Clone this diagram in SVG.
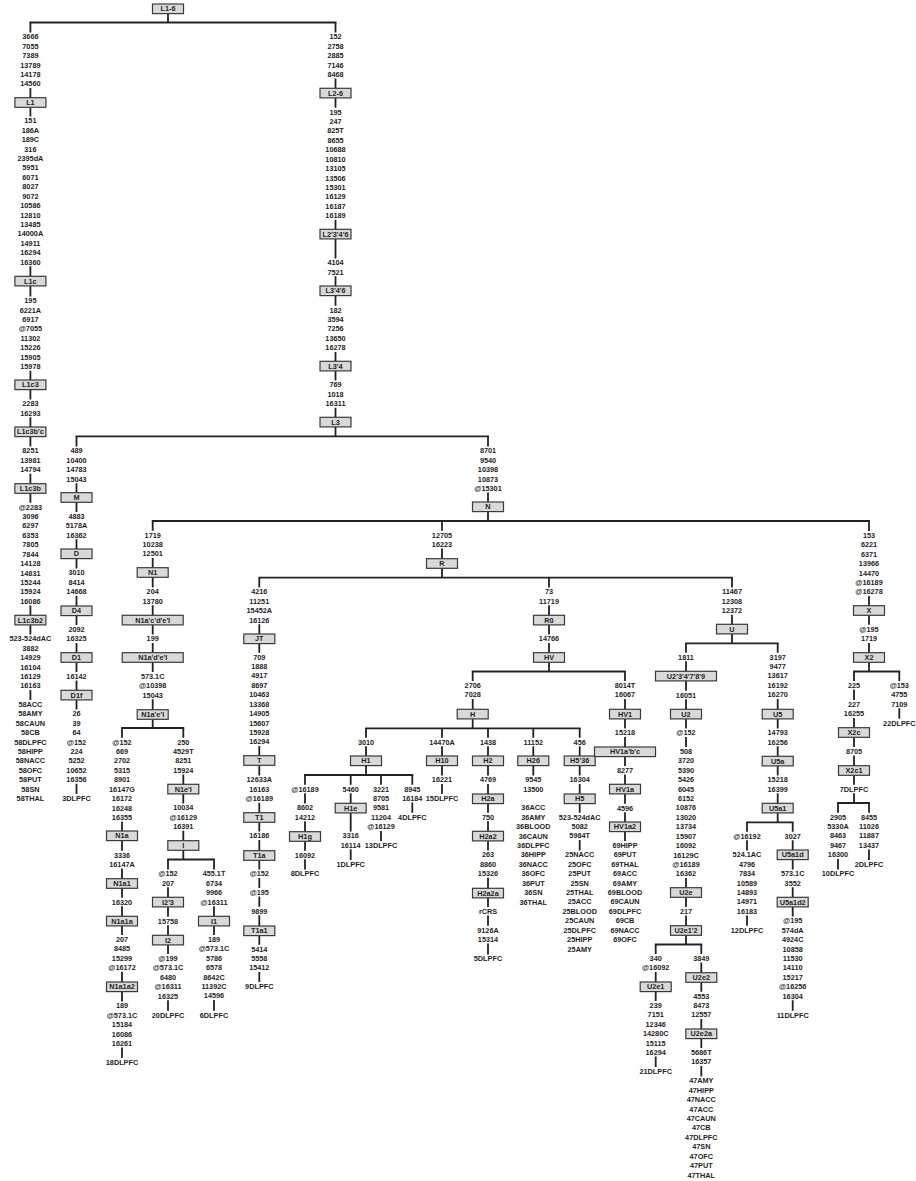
<svg xmlns="http://www.w3.org/2000/svg" width="916" height="1181" viewBox="0 0 916 1181">
<style>
.b{fill:#d9d9d9;stroke:#3a3a3a;stroke-width:1.2}
.t{font-family:"Liberation Sans",Arial,sans-serif;font-size:7.3px;font-weight:bold;fill:#1e1e1e;text-anchor:middle}
.c{fill:none;stroke:#222;stroke-width:1.8}
.h{fill:none;stroke:#222;stroke-width:1.8;stroke-linecap:square}
</style>
<rect width="916" height="1181" fill="#fff"/>
<g id="connectors">
<path class="h" d="M30.4 22.5H335.5M76.5 436.3H488M152.7 521H869M259.3 577.7H732M122 728H183.3M168 859.5H214M472.7 671.5H625M366 728.3H579.7M305 775H412.3M686 643.3H777.7M655.7 944.5H701.3M747 822.3H792.7M854 671.5H899.3M838 803H869"/>
<path class="c" d="M168 13.6V22.5
M30.4 22.5V32.5M30.4 87.9V97.7M30.4 107.3V116.5M30.4 266.2V276.3M30.4 285.9V296.4M30.4 370.7V380M30.4 389.6V399.5M30.4 417.3V427M30.4 436.6V446.5M30.4 473.7V483.7M30.4 493.3V502.8M30.4 605.4V615.3M30.4 624.9V634.5M30.4 690V700.1
M335.5 22.5V32.5M335.5 78.6V88.3M335.5 97.9V107.8M335.5 219.8V229.3M335.5 238.9V258.5M335.5 276.3V286M335.5 295.6V305.8M335.5 351.9V361.3M335.5 370.9V380.5M335.5 407.7V417.3M335.5 426.9V436.3
M76.5 436.3V446.5M76.5 483.2V492.7M76.5 502.3V512.1M76.5 539.3V549M76.5 558.6V568.5M76.5 595.7V606M76.5 615.6V625.1M76.5 642.9V652.7M76.5 662.3V672.1M76.5 680.5V690.3M76.5 699.9V709.5M76.5 783.8V794.1
M488 436.3V446.5M488 492.6V502M488 511.6V521
M152.7 521V530.8M152.7 558V567.7M152.7 577.3V587.5M152.7 605.3V615.3M152.7 624.9V634.5M152.7 642.9V652.7M152.7 662.3V672.1M152.7 699.3V709.7M152.7 719.3V728
M122 728V737.8M122 821.6V831M122 840.6V850.8M122 868.6V878.7M122 888.3V897.8M122 906.2V916.3M122 925.9V935.1M122 971.8V982M122 991.6V1001.5M122 1047.6V1058.1
M183.3 728V737.8M183.3 774.5V784.3M183.3 793.9V803.5M183.3 830.7V840.7M183.3 850.3V859.5
M168 859.5V869.5M168 887.3V897.3M168 906.9V916.8M168 925.2V935.3M168 944.9V954.1M168 1000.2V1010.8
M214 859.5V869.5M214 906.2V916.3M214 925.9V935.1M214 1000V1010.8
M442 521V530.8M442 548.6V558.7M442 568.3V577.7
M259.3 577.7V587.5M259.3 624.2V634M259.3 643.6V652.8M259.3 746V755.7M259.3 765.3V775.5M259.3 802.7V812.7M259.3 822.3V831.5M259.3 839.9V850.7M259.3 860.3V869.5M259.3 877.9V888.1M259.3 896.5V906.8M259.3 915.2V926M259.3 935.6V944.8M259.3 972V982.1
M549 577.7V587.5M549 605.3V615.3M549 624.9V634.5M549 642.9V652.7M549 662.3V671.5
M472.7 671.5V681.1M472.7 698.9V709.3M472.7 718.9V728.3
M366 728.3V737.8M366 746.2V756M366 765.6V775
M305 775V784.8M305 793.2V803.5M305 821.3V831.7M305 841.3V850.8M305 859.2V869.5
M350.7 775V784.8M350.7 793.2V803.3M350.7 812.9V831.5M350.7 849.3V860.1
M381 775V784.8M381 830.9V841.1
M412.3 775V784.8M412.3 802.6V812.8
M442 728.3V737.8M442 746.2V756M442 765.6V775.5M442 783.9V794.1
M488 728.3V737.8M488 746.2V756M488 765.6V775.5M488 783.9V794M488 803.6V812.8M488 821.2V831.3M488 840.9V850.5M488 877.7V888.3M488 897.9V907.1M488 915.5V925.8M488 943.6V954.5
M533.3 728.3V737.8M533.3 746.2V756M533.3 765.6V775.5
M579.7 728.3V737.8M579.7 746.2V756M579.7 765.6V775.5M579.7 783.9V794M579.7 803.6V812.8M579.7 840V850.5
M625 671.5V681.1M625 698.9V709.3M625 718.9V728.5M625 736.9V747M625 756.6V766.1M625 774.5V784.3M625 793.9V803.8M625 812.2V822M625 831.6V841.1
M732 577.7V587.5M732 614.7V624.3M732 633.9V643.3
M686 643.3V652.8M686 661.2V671.3M686 680.9V690.8M686 699.2V709.3M686 718.9V728.5M686 736.9V747.1M686 878V887.7M686 897.3V907.1M686 915.5V925.7M686 935.3V944.5
M655.7 944.5V954.1M655.7 971.9V982M655.7 991.6V1001.1M655.7 1056.6V1067.1
M701.3 944.5V954.1M701.3 962.5V972.7M701.3 982.3V991.8M701.3 1019V1029M701.3 1038.6V1048.1M701.3 1065.9V1076.5
M777.7 643.3V652.8M777.7 698.9V709.3M777.7 718.9V728.5M777.7 746.3V756.3M777.7 765.9V775.5M777.7 793.3V803.3M777.7 812.9V822.3
M747 822.3V831.8M747 840.2V850.5M747 915.4V925.8
M792.7 822.3V831.8M792.7 840.2V850M792.7 859.6V869.5M792.7 887.3V897.3M792.7 906.9V916.5M792.7 1000.3V1010.8
M869 521V531.1M869 596V605.7M869 615.3V624.8M869 642.9V652.7M869 662.3V671.5
M854 671.5V681.1M854 689.5V700.1M854 717.9V727.7M854 737.3V747.1M854 755.5V765.7M854 775.3V784.8M854 793.2V803
M838 803V812.8M838 858.9V869.5
M869 803V812.8M869 849.5V860.1
M899.3 671.5V681.1M899.3 708.3V718.8"/>
</g>
<g id="labels" class="t">
<text x="30.4" y="39.3"><tspan x="30.4">3666</tspan><tspan x="30.4" dy="9.42">7055</tspan><tspan x="30.4" dy="9.42">7389</tspan><tspan x="30.4" dy="9.42">13789</tspan><tspan x="30.4" dy="9.42">14178</tspan><tspan x="30.4" dy="9.42">14560</tspan></text>
<text x="30.4" y="123.3"><tspan x="30.4">151</tspan><tspan x="30.4" dy="9.42">186A</tspan><tspan x="30.4" dy="9.42">189C</tspan><tspan x="30.4" dy="9.42">316</tspan><tspan x="30.4" dy="9.42">2395dA</tspan><tspan x="30.4" dy="9.42">5951</tspan><tspan x="30.4" dy="9.42">6071</tspan><tspan x="30.4" dy="9.42">8027</tspan><tspan x="30.4" dy="9.42">9072</tspan><tspan x="30.4" dy="9.42">10586</tspan><tspan x="30.4" dy="9.42">12810</tspan><tspan x="30.4" dy="9.42">13485</tspan><tspan x="30.4" dy="9.42">14000A</tspan><tspan x="30.4" dy="9.42">14911</tspan><tspan x="30.4" dy="9.42">16294</tspan><tspan x="30.4" dy="9.42">16360</tspan></text>
<text x="30.4" y="303.2"><tspan x="30.4">195</tspan><tspan x="30.4" dy="9.42">6221A</tspan><tspan x="30.4" dy="9.42">6917</tspan><tspan x="30.4" dy="9.42">@7055</tspan><tspan x="30.4" dy="9.42">11302</tspan><tspan x="30.4" dy="9.42">15226</tspan><tspan x="30.4" dy="9.42">15905</tspan><tspan x="30.4" dy="9.42">15978</tspan></text>
<text x="30.4" y="406.3"><tspan x="30.4">2283</tspan><tspan x="30.4" dy="9.42">16293</tspan></text>
<text x="30.4" y="453.3"><tspan x="30.4">8251</tspan><tspan x="30.4" dy="9.42">13981</tspan><tspan x="30.4" dy="9.42">14794</tspan></text>
<text x="30.4" y="509.6"><tspan x="30.4">@2283</tspan><tspan x="30.4" dy="9.42">3096</tspan><tspan x="30.4" dy="9.42">6297</tspan><tspan x="30.4" dy="9.42">6353</tspan><tspan x="30.4" dy="9.42">7805</tspan><tspan x="30.4" dy="9.42">7844</tspan><tspan x="30.4" dy="9.42">14128</tspan><tspan x="30.4" dy="9.42">14831</tspan><tspan x="30.4" dy="9.42">15244</tspan><tspan x="30.4" dy="9.42">15924</tspan><tspan x="30.4" dy="9.42">16086</tspan></text>
<text x="30.4" y="641.3"><tspan x="30.4">523-524dAC</tspan><tspan x="30.4" dy="9.42">3882</tspan><tspan x="30.4" dy="9.42">14929</tspan><tspan x="30.4" dy="9.42">16104</tspan><tspan x="30.4" dy="9.42">16129</tspan><tspan x="30.4" dy="9.42">16163</tspan></text>
<text x="30.4" y="706.9"><tspan x="30.4">58ACC</tspan><tspan x="30.4" dy="9.42">58AMY</tspan><tspan x="30.4" dy="9.42">58CAUN</tspan><tspan x="30.4" dy="9.42">58CB</tspan><tspan x="30.4" dy="9.42">58DLPFC</tspan><tspan x="30.4" dy="9.42">58HIPP</tspan><tspan x="30.4" dy="9.42">58NACC</tspan><tspan x="30.4" dy="9.42">58OFC</tspan><tspan x="30.4" dy="9.42">58PUT</tspan><tspan x="30.4" dy="9.42">58SN</tspan><tspan x="30.4" dy="9.42">58THAL</tspan></text>
<text x="335.5" y="39.3"><tspan x="335.5">152</tspan><tspan x="335.5" dy="9.42">2758</tspan><tspan x="335.5" dy="9.42">2885</tspan><tspan x="335.5" dy="9.42">7146</tspan><tspan x="335.5" dy="9.42">8468</tspan></text>
<text x="335.5" y="114.6"><tspan x="335.5">195</tspan><tspan x="335.5" dy="9.42">247</tspan><tspan x="335.5" dy="9.42">825T</tspan><tspan x="335.5" dy="9.42">8655</tspan><tspan x="335.5" dy="9.42">10688</tspan><tspan x="335.5" dy="9.42">10810</tspan><tspan x="335.5" dy="9.42">13105</tspan><tspan x="335.5" dy="9.42">13506</tspan><tspan x="335.5" dy="9.42">15301</tspan><tspan x="335.5" dy="9.42">16129</tspan><tspan x="335.5" dy="9.42">16187</tspan><tspan x="335.5" dy="9.42">16189</tspan></text>
<text x="335.5" y="265.3"><tspan x="335.5">4104</tspan><tspan x="335.5" dy="9.42">7521</tspan></text>
<text x="335.5" y="312.6"><tspan x="335.5">182</tspan><tspan x="335.5" dy="9.42">3594</tspan><tspan x="335.5" dy="9.42">7256</tspan><tspan x="335.5" dy="9.42">13650</tspan><tspan x="335.5" dy="9.42">16278</tspan></text>
<text x="335.5" y="387.3"><tspan x="335.5">769</tspan><tspan x="335.5" dy="9.42">1018</tspan><tspan x="335.5" dy="9.42">16311</tspan></text>
<text x="76.5" y="453.3"><tspan x="76.5">489</tspan><tspan x="76.5" dy="9.42">10400</tspan><tspan x="76.5" dy="9.42">14783</tspan><tspan x="76.5" dy="9.42">15043</tspan></text>
<text x="76.5" y="518.9"><tspan x="76.5">4883</tspan><tspan x="76.5" dy="9.42">5178A</tspan><tspan x="76.5" dy="9.42">16362</tspan></text>
<text x="76.5" y="575.3"><tspan x="76.5">3010</tspan><tspan x="76.5" dy="9.42">8414</tspan><tspan x="76.5" dy="9.42">14668</tspan></text>
<text x="76.5" y="631.9"><tspan x="76.5">2092</tspan><tspan x="76.5" dy="9.42">16325</tspan></text>
<text x="76.5" y="678.9">16142</text>
<text x="76.5" y="716.3"><tspan x="76.5">26</tspan><tspan x="76.5" dy="9.42">39</tspan><tspan x="76.5" dy="9.42">64</tspan><tspan x="76.5" dy="9.42">@152</tspan><tspan x="76.5" dy="9.42">224</tspan><tspan x="76.5" dy="9.42">5252</tspan><tspan x="76.5" dy="9.42">10652</tspan><tspan x="76.5" dy="9.42">16356</tspan></text>
<text x="76.5" y="800.9">3DLPFC</text>
<text x="488" y="453.3"><tspan x="488">8701</tspan><tspan x="488" dy="9.42">9540</tspan><tspan x="488" dy="9.42">10398</tspan><tspan x="488" dy="9.42">10873</tspan><tspan x="488" dy="9.42">@15301</tspan></text>
<text x="152.7" y="537.6"><tspan x="152.7">1719</tspan><tspan x="152.7" dy="9.42">10238</tspan><tspan x="152.7" dy="9.42">12501</tspan></text>
<text x="152.7" y="594.3"><tspan x="152.7">204</tspan><tspan x="152.7" dy="9.42">13780</tspan></text>
<text x="152.7" y="641.3">199</text>
<text x="152.7" y="678.9"><tspan x="152.7">573.1C</tspan><tspan x="152.7" dy="9.42">@10398</tspan><tspan x="152.7" dy="9.42">15043</tspan></text>
<text x="122" y="744.6"><tspan x="122">@152</tspan><tspan x="122" dy="9.42">669</tspan><tspan x="122" dy="9.42">2702</tspan><tspan x="122" dy="9.42">5315</tspan><tspan x="122" dy="9.42">8901</tspan><tspan x="122" dy="9.42">16147G</tspan><tspan x="122" dy="9.42">16172</tspan><tspan x="122" dy="9.42">16248</tspan><tspan x="122" dy="9.42">16355</tspan></text>
<text x="122" y="857.6"><tspan x="122">3336</tspan><tspan x="122" dy="9.42">16147A</tspan></text>
<text x="122" y="904.6">16320</text>
<text x="122" y="941.9"><tspan x="122">207</tspan><tspan x="122" dy="9.42">8485</tspan><tspan x="122" dy="9.42">15299</tspan><tspan x="122" dy="9.42">@16172</tspan></text>
<text x="122" y="1008.3"><tspan x="122">189</tspan><tspan x="122" dy="9.42">@573.1C</tspan><tspan x="122" dy="9.42">15184</tspan><tspan x="122" dy="9.42">16086</tspan><tspan x="122" dy="9.42">16261</tspan></text>
<text x="122" y="1064.9">18DLPFC</text>
<text x="183.3" y="744.6"><tspan x="183.3">250</tspan><tspan x="183.3" dy="9.42">4529T</tspan><tspan x="183.3" dy="9.42">8251</tspan><tspan x="183.3" dy="9.42">15924</tspan></text>
<text x="183.3" y="810.3"><tspan x="183.3">10034</tspan><tspan x="183.3" dy="9.42">@16129</tspan><tspan x="183.3" dy="9.42">16391</tspan></text>
<text x="168" y="876.3"><tspan x="168">@152</tspan><tspan x="168" dy="9.42">207</tspan></text>
<text x="168" y="923.6">15758</text>
<text x="168" y="960.9"><tspan x="168">@199</tspan><tspan x="168" dy="9.42">@573.1C</tspan><tspan x="168" dy="9.42">6480</tspan><tspan x="168" dy="9.42">@16311</tspan><tspan x="168" dy="9.42">16325</tspan></text>
<text x="168" y="1017.6">20DLPFC</text>
<text x="214" y="876.3"><tspan x="214">455.1T</tspan><tspan x="214" dy="9.42">6734</tspan><tspan x="214" dy="9.42">9966</tspan><tspan x="214" dy="9.42">@16311</tspan></text>
<text x="214" y="941.9"><tspan x="214">189</tspan><tspan x="214" dy="9.42">@573.1C</tspan><tspan x="214" dy="9.42">5786</tspan><tspan x="214" dy="9.42">6578</tspan><tspan x="214" dy="9.42">8642C</tspan><tspan x="214" dy="9.42">11392C</tspan><tspan x="214" dy="9.42">14596</tspan></text>
<text x="214" y="1017.6">6DLPFC</text>
<text x="442" y="537.6"><tspan x="442">12705</tspan><tspan x="442" dy="9.42">16223</tspan></text>
<text x="259.3" y="594.3"><tspan x="259.3">4216</tspan><tspan x="259.3" dy="9.42">11251</tspan><tspan x="259.3" dy="9.42">15452A</tspan><tspan x="259.3" dy="9.42">16126</tspan></text>
<text x="259.3" y="659.6"><tspan x="259.3">709</tspan><tspan x="259.3" dy="9.42">1888</tspan><tspan x="259.3" dy="9.42">4917</tspan><tspan x="259.3" dy="9.42">8697</tspan><tspan x="259.3" dy="9.42">10463</tspan><tspan x="259.3" dy="9.42">13368</tspan><tspan x="259.3" dy="9.42">14905</tspan><tspan x="259.3" dy="9.42">15607</tspan><tspan x="259.3" dy="9.42">15928</tspan><tspan x="259.3" dy="9.42">16294</tspan></text>
<text x="259.3" y="782.3"><tspan x="259.3">12633A</tspan><tspan x="259.3" dy="9.42">16163</tspan><tspan x="259.3" dy="9.42">@16189</tspan></text>
<text x="259.3" y="838.3">16186</text>
<text x="259.3" y="876.3">@152</text>
<text x="259.3" y="894.9">@195</text>
<text x="259.3" y="913.6">9899</text>
<text x="259.3" y="951.6"><tspan x="259.3">5414</tspan><tspan x="259.3" dy="9.42">5558</tspan><tspan x="259.3" dy="9.42">15412</tspan></text>
<text x="259.3" y="988.9">9DLPFC</text>
<text x="549" y="594.3"><tspan x="549">73</tspan><tspan x="549" dy="9.42">11719</tspan></text>
<text x="549" y="641.3">14766</text>
<text x="472.7" y="687.9"><tspan x="472.7">2706</tspan><tspan x="472.7" dy="9.42">7028</tspan></text>
<text x="366" y="744.6">3010</text>
<text x="305" y="791.6">@16189</text>
<text x="305" y="810.3"><tspan x="305">8602</tspan><tspan x="305" dy="9.42">14212</tspan></text>
<text x="305" y="857.6">16092</text>
<text x="305" y="876.3">8DLPFC</text>
<text x="350.7" y="791.6">5460</text>
<text x="350.7" y="838.3"><tspan x="350.7">3316</tspan><tspan x="350.7" dy="9.42">16114</tspan></text>
<text x="350.7" y="866.9">1DLPFC</text>
<text x="381" y="791.6"><tspan x="381">3221</tspan><tspan x="381" dy="9.42">8705</tspan><tspan x="381" dy="9.42">9581</tspan><tspan x="381" dy="9.42">11204</tspan><tspan x="381" dy="9.42">@16129</tspan></text>
<text x="381" y="847.9">13DLPFC</text>
<text x="412.3" y="791.6"><tspan x="412.3">8945</tspan><tspan x="412.3" dy="9.42">16184</tspan></text>
<text x="412.3" y="819.6">4DLPFC</text>
<text x="442" y="744.6">14470A</text>
<text x="442" y="782.3">16221</text>
<text x="442" y="800.9">15DLPFC</text>
<text x="488" y="744.6">1438</text>
<text x="488" y="782.3">4769</text>
<text x="488" y="819.6">750</text>
<text x="488" y="857.3"><tspan x="488">263</tspan><tspan x="488" dy="9.42">8860</tspan><tspan x="488" dy="9.42">15326</tspan></text>
<text x="488" y="913.9">rCRS</text>
<text x="488" y="932.6"><tspan x="488">9126A</tspan><tspan x="488" dy="9.42">15314</tspan></text>
<text x="488" y="961.3">5DLPFC</text>
<text x="533.3" y="744.6">11152</text>
<text x="533.3" y="782.3"><tspan x="533.3">9545</tspan><tspan x="533.3" dy="9.42">13500</tspan></text>
<text x="533.3" y="810.3"><tspan x="533.3">36ACC</tspan><tspan x="533.3" dy="9.42">36AMY</tspan><tspan x="533.3" dy="9.42">36BLOOD</tspan><tspan x="533.3" dy="9.42">36CAUN</tspan><tspan x="533.3" dy="9.42">36DLPFC</tspan><tspan x="533.3" dy="9.42">36HIPP</tspan><tspan x="533.3" dy="9.42">36NACC</tspan><tspan x="533.3" dy="9.42">36OFC</tspan><tspan x="533.3" dy="9.42">36PUT</tspan><tspan x="533.3" dy="9.42">36SN</tspan><tspan x="533.3" dy="9.42">36THAL</tspan></text>
<text x="579.7" y="744.6">456</text>
<text x="579.7" y="782.3">16304</text>
<text x="579.7" y="819.6"><tspan x="579.7">523-524dAC</tspan><tspan x="579.7" dy="9.42">5082</tspan><tspan x="579.7" dy="9.42">5984T</tspan></text>
<text x="579.7" y="857.3"><tspan x="579.7">25NACC</tspan><tspan x="579.7" dy="9.42">25OFC</tspan><tspan x="579.7" dy="9.42">25PUT</tspan><tspan x="579.7" dy="9.42">25SN</tspan><tspan x="579.7" dy="9.42">25THAL</tspan><tspan x="579.7" dy="9.42">25ACC</tspan><tspan x="579.7" dy="9.42">25BLOOD</tspan><tspan x="579.7" dy="9.42">25CAUN</tspan><tspan x="579.7" dy="9.42">25DLPFC</tspan><tspan x="579.7" dy="9.42">25HIPP</tspan><tspan x="579.7" dy="9.42">25AMY</tspan></text>
<text x="625" y="687.9"><tspan x="625">8014T</tspan><tspan x="625" dy="9.42">16067</tspan></text>
<text x="625" y="735.3">15218</text>
<text x="625" y="772.9">8277</text>
<text x="625" y="810.6">4596</text>
<text x="625" y="847.9"><tspan x="625">69HIPP</tspan><tspan x="625" dy="9.42">69PUT</tspan><tspan x="625" dy="9.42">69THAL</tspan><tspan x="625" dy="9.42">69ACC</tspan><tspan x="625" dy="9.42">69AMY</tspan><tspan x="625" dy="9.42">69BLOOD</tspan><tspan x="625" dy="9.42">69CAUN</tspan><tspan x="625" dy="9.42">69DLPFC</tspan><tspan x="625" dy="9.42">69CB</tspan><tspan x="625" dy="9.42">69NACC</tspan><tspan x="625" dy="9.42">69OFC</tspan></text>
<text x="732" y="594.3"><tspan x="732">11467</tspan><tspan x="732" dy="9.42">12308</tspan><tspan x="732" dy="9.42">12372</tspan></text>
<text x="686" y="659.6">1811</text>
<text x="686" y="697.6">16051</text>
<text x="686" y="735.3">@152</text>
<text x="686" y="753.9"><tspan x="686">508</tspan><tspan x="686" dy="9.42">3720</tspan><tspan x="686" dy="9.42">5390</tspan><tspan x="686" dy="9.42">5426</tspan><tspan x="686" dy="9.42">6045</tspan><tspan x="686" dy="9.42">6152</tspan><tspan x="686" dy="9.42">10876</tspan><tspan x="686" dy="9.42">13020</tspan><tspan x="686" dy="9.42">13734</tspan><tspan x="686" dy="9.42">15907</tspan><tspan x="686" dy="9.42">16092</tspan><tspan x="686" dy="9.42">16129C</tspan><tspan x="686" dy="9.42">@16189</tspan><tspan x="686" dy="9.42">16362</tspan></text>
<text x="686" y="913.9">217</text>
<text x="655.7" y="960.9"><tspan x="655.7">340</tspan><tspan x="655.7" dy="9.42">@16092</tspan></text>
<text x="655.7" y="1007.9"><tspan x="655.7">239</tspan><tspan x="655.7" dy="9.42">7151</tspan><tspan x="655.7" dy="9.42">12346</tspan><tspan x="655.7" dy="9.42">14280C</tspan><tspan x="655.7" dy="9.42">15115</tspan><tspan x="655.7" dy="9.42">16294</tspan></text>
<text x="655.7" y="1073.9">21DLPFC</text>
<text x="701.3" y="960.9">3849</text>
<text x="701.3" y="998.6"><tspan x="701.3">4553</tspan><tspan x="701.3" dy="9.42">8473</tspan><tspan x="701.3" dy="9.42">12557</tspan></text>
<text x="701.3" y="1054.9"><tspan x="701.3">5686T</tspan><tspan x="701.3" dy="9.42">16357</tspan></text>
<text x="701.3" y="1083.3"><tspan x="701.3">47AMY</tspan><tspan x="701.3" dy="9.42">47HIPP</tspan><tspan x="701.3" dy="9.42">47NACC</tspan><tspan x="701.3" dy="9.42">47ACC</tspan><tspan x="701.3" dy="9.42">47CAUN</tspan><tspan x="701.3" dy="9.42">47CB</tspan><tspan x="701.3" dy="9.42">47DLPFC</tspan><tspan x="701.3" dy="9.42">47SN</tspan><tspan x="701.3" dy="9.42">47OFC</tspan><tspan x="701.3" dy="9.42">47PUT</tspan><tspan x="701.3" dy="9.42">47THAL</tspan></text>
<text x="777.7" y="659.6"><tspan x="777.7">3197</tspan><tspan x="777.7" dy="9.42">9477</tspan><tspan x="777.7" dy="9.42">13617</tspan><tspan x="777.7" dy="9.42">16192</tspan><tspan x="777.7" dy="9.42">16270</tspan></text>
<text x="777.7" y="735.3"><tspan x="777.7">14793</tspan><tspan x="777.7" dy="9.42">16256</tspan></text>
<text x="777.7" y="782.3"><tspan x="777.7">15218</tspan><tspan x="777.7" dy="9.42">16399</tspan></text>
<text x="747" y="838.6">@16192</text>
<text x="747" y="857.3"><tspan x="747">524.1AC</tspan><tspan x="747" dy="9.42">4796</tspan><tspan x="747" dy="9.42">7834</tspan><tspan x="747" dy="9.42">10589</tspan><tspan x="747" dy="9.42">14893</tspan><tspan x="747" dy="9.42">14971</tspan><tspan x="747" dy="9.42">16183</tspan></text>
<text x="747" y="932.6">12DLPFC</text>
<text x="792.7" y="838.6">3027</text>
<text x="792.7" y="876.3"><tspan x="792.7">573.1C</tspan><tspan x="792.7" dy="9.42">3552</tspan></text>
<text x="792.7" y="923.3"><tspan x="792.7">@195</tspan><tspan x="792.7" dy="9.42">574dA</tspan><tspan x="792.7" dy="9.42">4924C</tspan><tspan x="792.7" dy="9.42">10858</tspan><tspan x="792.7" dy="9.42">11530</tspan><tspan x="792.7" dy="9.42">14110</tspan><tspan x="792.7" dy="9.42">15217</tspan><tspan x="792.7" dy="9.42">@16256</tspan><tspan x="792.7" dy="9.42">16304</tspan></text>
<text x="792.7" y="1017.6">11DLPFC</text>
<text x="869" y="537.9"><tspan x="869">153</tspan><tspan x="869" dy="9.42">6221</tspan><tspan x="869" dy="9.42">6371</tspan><tspan x="869" dy="9.42">13966</tspan><tspan x="869" dy="9.42">14470</tspan><tspan x="869" dy="9.42">@16189</tspan><tspan x="869" dy="9.42">@16278</tspan></text>
<text x="869" y="631.6"><tspan x="869">@195</tspan><tspan x="869" dy="9.42">1719</tspan></text>
<text x="854" y="687.9">225</text>
<text x="854" y="706.9"><tspan x="854">227</tspan><tspan x="854" dy="9.42">16255</tspan></text>
<text x="854" y="753.9">8705</text>
<text x="854" y="791.6">7DLPFC</text>
<text x="838" y="819.6"><tspan x="838">2905</tspan><tspan x="838" dy="9.42">5330A</tspan><tspan x="838" dy="9.42">8463</tspan><tspan x="838" dy="9.42">9467</tspan><tspan x="838" dy="9.42">16300</tspan></text>
<text x="838" y="876.3">10DLPFC</text>
<text x="869" y="819.6"><tspan x="869">8455</tspan><tspan x="869" dy="9.42">11026</tspan><tspan x="869" dy="9.42">11887</tspan><tspan x="869" dy="9.42">13437</tspan></text>
<text x="869" y="866.9">2DLPFC</text>
<text x="899.3" y="687.9"><tspan x="899.3">@153</tspan><tspan x="899.3" dy="9.42">4755</tspan><tspan x="899.3" dy="9.42">7109</tspan></text>
<text x="899.3" y="725.6">22DLPFC</text>
</g>
<g class="t">
<g id="n-L1-6"><rect class="b" x="152.5" y="4" width="31" height="9.6"/><text x="168" y="11.4">L1-6</text></g>
<g id="n-L1"><rect class="b" x="14.9" y="97.7" width="31" height="9.6"/><text x="30.4" y="105.1">L1</text></g>
<g id="n-L1c"><rect class="b" x="14.9" y="276.3" width="31" height="9.6"/><text x="30.4" y="283.7">L1c</text></g>
<g id="n-L1c3"><rect class="b" x="14.9" y="380" width="31" height="9.6"/><text x="30.4" y="387.4">L1c3</text></g>
<g id="n-L1c3bc"><rect class="b" x="14.9" y="427" width="31" height="9.6"/><text x="30.4" y="434.4">L1c3b'c</text></g>
<g id="n-L1c3b"><rect class="b" x="14.9" y="483.7" width="31" height="9.6"/><text x="30.4" y="491.1">L1c3b</text></g>
<g id="n-L1c3b2"><rect class="b" x="14.9" y="615.3" width="31" height="9.6"/><text x="30.4" y="622.7">L1c3b2</text></g>
<g id="n-L2-6"><rect class="b" x="320" y="88.3" width="31" height="9.6"/><text x="335.5" y="95.7">L2-6</text></g>
<g id="n-L2346"><rect class="b" x="320" y="229.3" width="31" height="9.6"/><text x="335.5" y="236.7">L2'3'4'6</text></g>
<g id="n-L346"><rect class="b" x="320" y="286" width="31" height="9.6"/><text x="335.5" y="293.4">L3'4'6</text></g>
<g id="n-L34"><rect class="b" x="320" y="361.3" width="31" height="9.6"/><text x="335.5" y="368.7">L3'4</text></g>
<g id="n-L3"><rect class="b" x="320" y="417.3" width="31" height="9.6"/><text x="335.5" y="424.7">L3</text></g>
<g id="n-M"><rect class="b" x="61" y="492.7" width="31" height="9.6"/><text x="76.5" y="500.1">M</text></g>
<g id="n-D"><rect class="b" x="61" y="549" width="31" height="9.6"/><text x="76.5" y="556.4">D</text></g>
<g id="n-D4"><rect class="b" x="61" y="606" width="31" height="9.6"/><text x="76.5" y="613.4">D4</text></g>
<g id="n-D1"><rect class="b" x="61" y="652.7" width="31" height="9.6"/><text x="76.5" y="660.1">D1</text></g>
<g id="n-D1f"><rect class="b" x="61" y="690.3" width="31" height="9.6"/><text x="76.5" y="697.7">D1f</text></g>
<g id="n-N"><rect class="b" x="472.5" y="502" width="31" height="9.6"/><text x="488" y="509.4">N</text></g>
<g id="n-N1"><rect class="b" x="137.2" y="567.7" width="31" height="9.6"/><text x="152.7" y="575.1">N1</text></g>
<g id="n-N1acdeI"><rect class="b" x="122.2" y="615.3" width="61" height="9.6"/><text x="152.7" y="622.7">N1a'c'd'e'I</text></g>
<g id="n-N1adeI"><rect class="b" x="122.2" y="652.7" width="61" height="9.6"/><text x="152.7" y="660.1">N1a'd'e'I</text></g>
<g id="n-N1aeI"><rect class="b" x="137.2" y="709.7" width="31" height="9.6"/><text x="152.7" y="717.1">N1a'e'I</text></g>
<g id="n-N1a"><rect class="b" x="106.5" y="831" width="31" height="9.6"/><text x="122" y="838.4">N1a</text></g>
<g id="n-N1a1"><rect class="b" x="106.5" y="878.7" width="31" height="9.6"/><text x="122" y="886.1">N1a1</text></g>
<g id="n-N1a1a"><rect class="b" x="106.5" y="916.3" width="31" height="9.6"/><text x="122" y="923.7">N1a1a</text></g>
<g id="n-N1a1a2"><rect class="b" x="106.5" y="982" width="31" height="9.6"/><text x="122" y="989.4">N1a1a2</text></g>
<g id="n-N1eI"><rect class="b" x="167.8" y="784.3" width="31" height="9.6"/><text x="183.3" y="791.7">N1e'I</text></g>
<g id="n-I"><rect class="b" x="167.8" y="840.7" width="31" height="9.6"/><text x="183.3" y="848.1">I</text></g>
<g id="n-I23"><rect class="b" x="152.5" y="897.3" width="31" height="9.6"/><text x="168" y="904.7">I2'3</text></g>
<g id="n-I2"><rect class="b" x="152.5" y="935.3" width="31" height="9.6"/><text x="168" y="942.7">I2</text></g>
<g id="n-I1"><rect class="b" x="198.5" y="916.3" width="31" height="9.6"/><text x="214" y="923.7">I1</text></g>
<g id="n-R"><rect class="b" x="426.5" y="558.7" width="31" height="9.6"/><text x="442" y="566.1">R</text></g>
<g id="n-JT"><rect class="b" x="243.8" y="634" width="31" height="9.6"/><text x="259.3" y="641.4">JT</text></g>
<g id="n-T"><rect class="b" x="243.8" y="755.7" width="31" height="9.6"/><text x="259.3" y="763.1">T</text></g>
<g id="n-T1"><rect class="b" x="243.8" y="812.7" width="31" height="9.6"/><text x="259.3" y="820.1">T1</text></g>
<g id="n-T1a"><rect class="b" x="243.8" y="850.7" width="31" height="9.6"/><text x="259.3" y="858.1">T1a</text></g>
<g id="n-T1a1"><rect class="b" x="243.8" y="926" width="31" height="9.6"/><text x="259.3" y="933.4">T1a1</text></g>
<g id="n-R0"><rect class="b" x="533.5" y="615.3" width="31" height="9.6"/><text x="549" y="622.7">R0</text></g>
<g id="n-HV"><rect class="b" x="533.5" y="652.7" width="31" height="9.6"/><text x="549" y="660.1">HV</text></g>
<g id="n-H"><rect class="b" x="457.2" y="709.3" width="31" height="9.6"/><text x="472.7" y="716.7">H</text></g>
<g id="n-H1"><rect class="b" x="350.5" y="756" width="31" height="9.6"/><text x="366" y="763.4">H1</text></g>
<g id="n-H1g"><rect class="b" x="289.5" y="831.7" width="31" height="9.6"/><text x="305" y="839.1">H1g</text></g>
<g id="n-H1e"><rect class="b" x="335.2" y="803.3" width="31" height="9.6"/><text x="350.7" y="810.7">H1e</text></g>
<g id="n-H10"><rect class="b" x="426.5" y="756" width="31" height="9.6"/><text x="442" y="763.4">H10</text></g>
<g id="n-H2"><rect class="b" x="472.5" y="756" width="31" height="9.6"/><text x="488" y="763.4">H2</text></g>
<g id="n-H2a"><rect class="b" x="472.5" y="794" width="31" height="9.6"/><text x="488" y="801.4">H2a</text></g>
<g id="n-H2a2"><rect class="b" x="472.5" y="831.3" width="31" height="9.6"/><text x="488" y="838.7">H2a2</text></g>
<g id="n-H2a2a"><rect class="b" x="472.5" y="888.3" width="31" height="9.6"/><text x="488" y="895.7">H2a2a</text></g>
<g id="n-H26"><rect class="b" x="517.8" y="756" width="31" height="9.6"/><text x="533.3" y="763.4">H26</text></g>
<g id="n-H536"><rect class="b" x="564.2" y="756" width="31" height="9.6"/><text x="579.7" y="763.4">H5'36</text></g>
<g id="n-H5"><rect class="b" x="564.2" y="794" width="31" height="9.6"/><text x="579.7" y="801.4">H5</text></g>
<g id="n-HV1"><rect class="b" x="609.5" y="709.3" width="31" height="9.6"/><text x="625" y="716.7">HV1</text></g>
<g id="n-HV1abc"><rect class="b" x="594.5" y="747" width="61" height="9.6"/><text x="625" y="754.4">HV1a'b'c</text></g>
<g id="n-HV1a"><rect class="b" x="609.5" y="784.3" width="31" height="9.6"/><text x="625" y="791.7">HV1a</text></g>
<g id="n-HV1a2"><rect class="b" x="609.5" y="822" width="31" height="9.6"/><text x="625" y="829.4">HV1a2</text></g>
<g id="n-U"><rect class="b" x="716.5" y="624.3" width="31" height="9.6"/><text x="732" y="631.7">U</text></g>
<g id="n-U234789"><rect class="b" x="655.5" y="671.3" width="61" height="9.6"/><text x="686" y="678.7">U2'3'4'7'8'9</text></g>
<g id="n-U2"><rect class="b" x="670.5" y="709.3" width="31" height="9.6"/><text x="686" y="716.7">U2</text></g>
<g id="n-U2e"><rect class="b" x="670.5" y="887.7" width="31" height="9.6"/><text x="686" y="895.1">U2e</text></g>
<g id="n-U2e12"><rect class="b" x="670.5" y="925.7" width="31" height="9.6"/><text x="686" y="933.1">U2e1'2</text></g>
<g id="n-U2e1"><rect class="b" x="640.2" y="982" width="31" height="9.6"/><text x="655.7" y="989.4">U2e1</text></g>
<g id="n-U2e2"><rect class="b" x="685.8" y="972.7" width="31" height="9.6"/><text x="701.3" y="980.1">U2e2</text></g>
<g id="n-U2e2a"><rect class="b" x="685.8" y="1029" width="31" height="9.6"/><text x="701.3" y="1036.4">U2e2a</text></g>
<g id="n-U5"><rect class="b" x="762.2" y="709.3" width="31" height="9.6"/><text x="777.7" y="716.7">U5</text></g>
<g id="n-U5a"><rect class="b" x="762.2" y="756.3" width="31" height="9.6"/><text x="777.7" y="763.7">U5a</text></g>
<g id="n-U5a1"><rect class="b" x="762.2" y="803.3" width="31" height="9.6"/><text x="777.7" y="810.7">U5a1</text></g>
<g id="n-U5a1d"><rect class="b" x="777.2" y="850" width="31" height="9.6"/><text x="792.7" y="857.4">U5a1d</text></g>
<g id="n-U5a1d2"><rect class="b" x="777.2" y="897.3" width="31" height="9.6"/><text x="792.7" y="904.7">U5a1d2</text></g>
<g id="n-X"><rect class="b" x="853.5" y="605.7" width="31" height="9.6"/><text x="869" y="613.1">X</text></g>
<g id="n-X2"><rect class="b" x="853.5" y="652.7" width="31" height="9.6"/><text x="869" y="660.1">X2</text></g>
<g id="n-X2c"><rect class="b" x="838.5" y="727.7" width="31" height="9.6"/><text x="854" y="735.1">X2c</text></g>
<g id="n-X2c1"><rect class="b" x="838.5" y="765.7" width="31" height="9.6"/><text x="854" y="773.1">X2c1</text></g>
</g>
</svg>
